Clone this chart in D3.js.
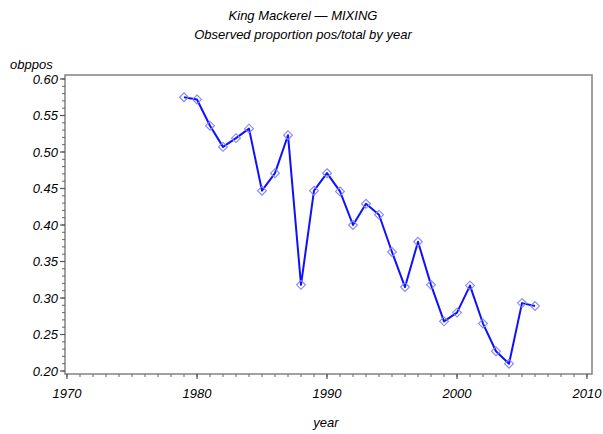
<!DOCTYPE html>
<html>
<head>
<meta charset="utf-8">
<script src="https://cdn.jsdelivr.net/npm/d3@7"></script>
<style>
  html, body { margin: 0; padding: 0; background: #fff; }
  svg text { font-family: "Liberation Sans", Arial, sans-serif; font-style: italic; fill: #000; }
</style>
</head>
<body>
<svg id="chart" width="603" height="434"></svg>
<script>
// Observed proportion of positive samples per year
const years = [1979,1980,1981,1982,1983,1984,1985,1986,1987,1988,1989,1990,1991,1992,
               1993,1994,1995,1996,1997,1998,1999,2000,2001,2002,2003,2004,2005,2006];
const obppos = [0.575,0.572,0.536,0.507,0.519,0.532,0.447,0.471,0.523,0.318,0.447,0.471,0.446,0.400,
                0.429,0.414,0.363,0.315,0.377,0.318,0.268,0.280,0.317,0.265,0.227,0.210,0.293,0.289];
const xTicks = [1970,1980,1990,2000,2010];
const yTicks = [0.20,0.25,0.30,0.35,0.40,0.45,0.50,0.55,0.60];
const titleLines = ["King Mackerel \u2014 MIXING", "Observed proportion pos/total by year"];

const svg = d3.select("#chart");
const frame = {left: 65, top: 75, right: 592, bottom: 374};

const x = d3.scaleLinear().domain([1970, 2010]).range([67, 587]);
const y = d3.scaleLinear().domain([0.20, 0.60]).range([371, 79]);

// Titles
svg.selectAll("text.title").data(titleLines).join("text")
  .attr("class", "title")
  .attr("x", 303).attr("y", (d, i) => 20 + i * 19)
  .attr("text-anchor", "middle")
  .style("font-size", "13px")
  .text(d => d);

// Frame
svg.append("rect")
  .attr("x", frame.left).attr("y", frame.top)
  .attr("width", frame.right - frame.left).attr("height", frame.bottom - frame.top)
  .attr("fill", "none").attr("stroke", "#8a8a8a").attr("stroke-width", 1.6);

// Y axis: major ticks with labels, minor ticks every 0.01
const yAxis = svg.append("g").attr("transform", `translate(${frame.left},0)`);
yAxis.selectAll("line.minor").data(d3.range(20, 61).map(v => v / 100)).join("line")
  .attr("x1", 0).attr("x2", -3)
  .attr("y1", d => y(d)).attr("y2", d => y(d))
  .attr("stroke", "#666").attr("stroke-width", 1);
yAxis.selectAll("line.major").data(yTicks).join("line")
  .attr("x1", 0).attr("x2", -5)
  .attr("y1", d => y(d)).attr("y2", d => y(d))
  .attr("stroke", "#555").attr("stroke-width", 1.2);
yAxis.selectAll("text").data(yTicks).join("text")
  .attr("x", -7).attr("y", d => y(d) + 4.5)
  .attr("text-anchor", "end")
  .style("font-size", "13px")
  .text(d => d3.format(".2f")(d));

// X axis: major ticks every 10 years, minor ticks every year
const xAxis = svg.append("g").attr("transform", `translate(0,${frame.bottom})`);
xAxis.selectAll("line.minor").data(d3.range(1970, 2011)).join("line")
  .attr("x1", d => x(d)).attr("x2", d => x(d))
  .attr("y1", 0).attr("y2", 3)
  .attr("stroke", "#666").attr("stroke-width", 1);
xAxis.selectAll("line.major").data(xTicks).join("line")
  .attr("x1", d => x(d)).attr("x2", d => x(d))
  .attr("y1", 0).attr("y2", 5)
  .attr("stroke", "#555").attr("stroke-width", 1.2);
xAxis.selectAll("text").data(xTicks).join("text")
  .attr("x", d => x(d)).attr("y", 24)
  .attr("text-anchor", "middle")
  .style("font-size", "13px")
  .text(d => d);

// Axis titles
svg.append("text").attr("x", 10).attr("y", 69).style("font-size", "13px").text("obppos");
svg.append("text").attr("x", 326).attr("y", 427).attr("text-anchor", "middle")
  .style("font-size", "13px").text("year");

// Series
const pts = years.map((yr, i) => [yr, obppos[i]]);
svg.append("path")
  .datum(pts)
  .attr("fill", "none")
  .attr("stroke", "#1010ff")
  .attr("stroke-width", 2)
  .attr("stroke-linejoin", "round")
  .attr("d", d3.line().x(d => x(d[0])).y(d => y(d[1])));

const sym = d3.symbol().type(d3.symbolDiamond2).size(50);
svg.selectAll("path.marker").data(pts).join("path")
  .attr("class", "marker")
  .attr("transform", d => `translate(${x(d[0])},${y(d[1])})`)
  .attr("d", sym)
  .attr("fill", "none")
  .attr("stroke", "#7f86ff")
  .attr("stroke-width", 1.1);
</script>
</body>
</html>
